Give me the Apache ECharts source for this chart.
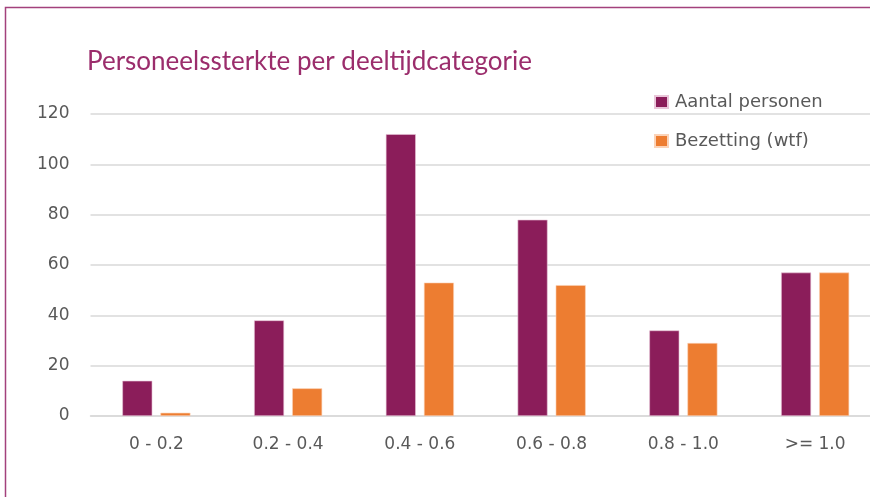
<!DOCTYPE html>
<html>
<head>
<meta charset="utf-8">
<script src="https://cdn.jsdelivr.net/npm/echarts@6/dist/echarts.min.js"></script>
<style>
  html, body { margin: 0; padding: 0; background: #fff; }
  #chart { width: 870px; height: 497px; }
</style>
</head>
<body>
<div id="chart"></div>
<script>
// categorieën en waarden
const categories = ['0 - 0.2', '0.2 - 0.4', '0.4 - 0.6', '0.6 - 0.8', '0.8 - 1.0', '>= 1.0'];
const aantalPersonen = [14, 38, 112, 78, 34, 57];
const bezetting = [1.3, 11, 53, 52, 29, 57];
const yTicks = [0, 20, 40, 60, 80, 100, 120];

const chart = echarts.init(document.getElementById('chart'));
const labelFont = '"DejaVu Sans", sans-serif';

const option = {
  animation: false,
  textStyle: { fontFamily: labelFont },
  graphic: [{
    type: 'rect',
    shape: { x: 5.5, y: 7.5, width: 900, height: 600 },
    style: { fill: 'none', stroke: '#a3417c', lineWidth: 1.5 },
    silent: true
  }],
  title: {
    text: 'Personeelssterkte per deeltijdcategorie',
    left: 82,
    top: 44,
    textStyle: { color: '#9b2d6c', fontSize: 26, fontWeight: 'normal', fontFamily: 'Lato, sans-serif' }
  },
  legend: {
    orient: 'vertical',
    left: 649,
    top: 88,
    itemWidth: 13,
    itemHeight: 12,
    itemGap: 21,
    icon: 'rect',
    textStyle: { color: '#595959', fontSize: 18, fontFamily: labelFont, padding: [0, 0, 0, 2] },
    data: ['Aantal personen', 'Bezetting (wtf)']
  },
  // de grafiek is rechts afgesneden: het plotvlak loopt door tot voorbij de rand
  grid: { left: 90.5, top: 114, width: 790.5, height: 302, outerBoundsMode: 'none' },
  xAxis: {
    type: 'category',
    data: categories,
    axisLine: { lineStyle: { color: '#d9d9d9', width: 1.5 } },
    axisTick: { show: false },
    axisLabel: { color: '#595959', fontSize: 17, margin: 20 }
  },
  yAxis: {
    type: 'value',
    min: yTicks[0],
    max: yTicks[yTicks.length - 1],
    interval: 20,
    axisLine: { show: false },
    axisTick: { show: false },
    splitLine: { lineStyle: { color: '#d9d9d9', width: 1.5 } },
    axisLabel: { color: '#595959', fontSize: 17, margin: 21 }
  },
  series: [{
    name: 'Aantal personen',
    type: 'bar',
    data: aantalPersonen,
    barWidth: 30,
    barGap: '27%',
    itemStyle: { color: '#8b1d5a', borderColor: '#e9c6d9', borderWidth: 0.6 }
  }, {
    name: 'Bezetting (wtf)',
    type: 'bar',
    data: bezetting,
    barWidth: 30,
    itemStyle: { color: '#ed7d31', borderColor: '#fbd3b8', borderWidth: 0.6 }
  }]
};

chart.setOption(option);
</script>
</body>
</html>
